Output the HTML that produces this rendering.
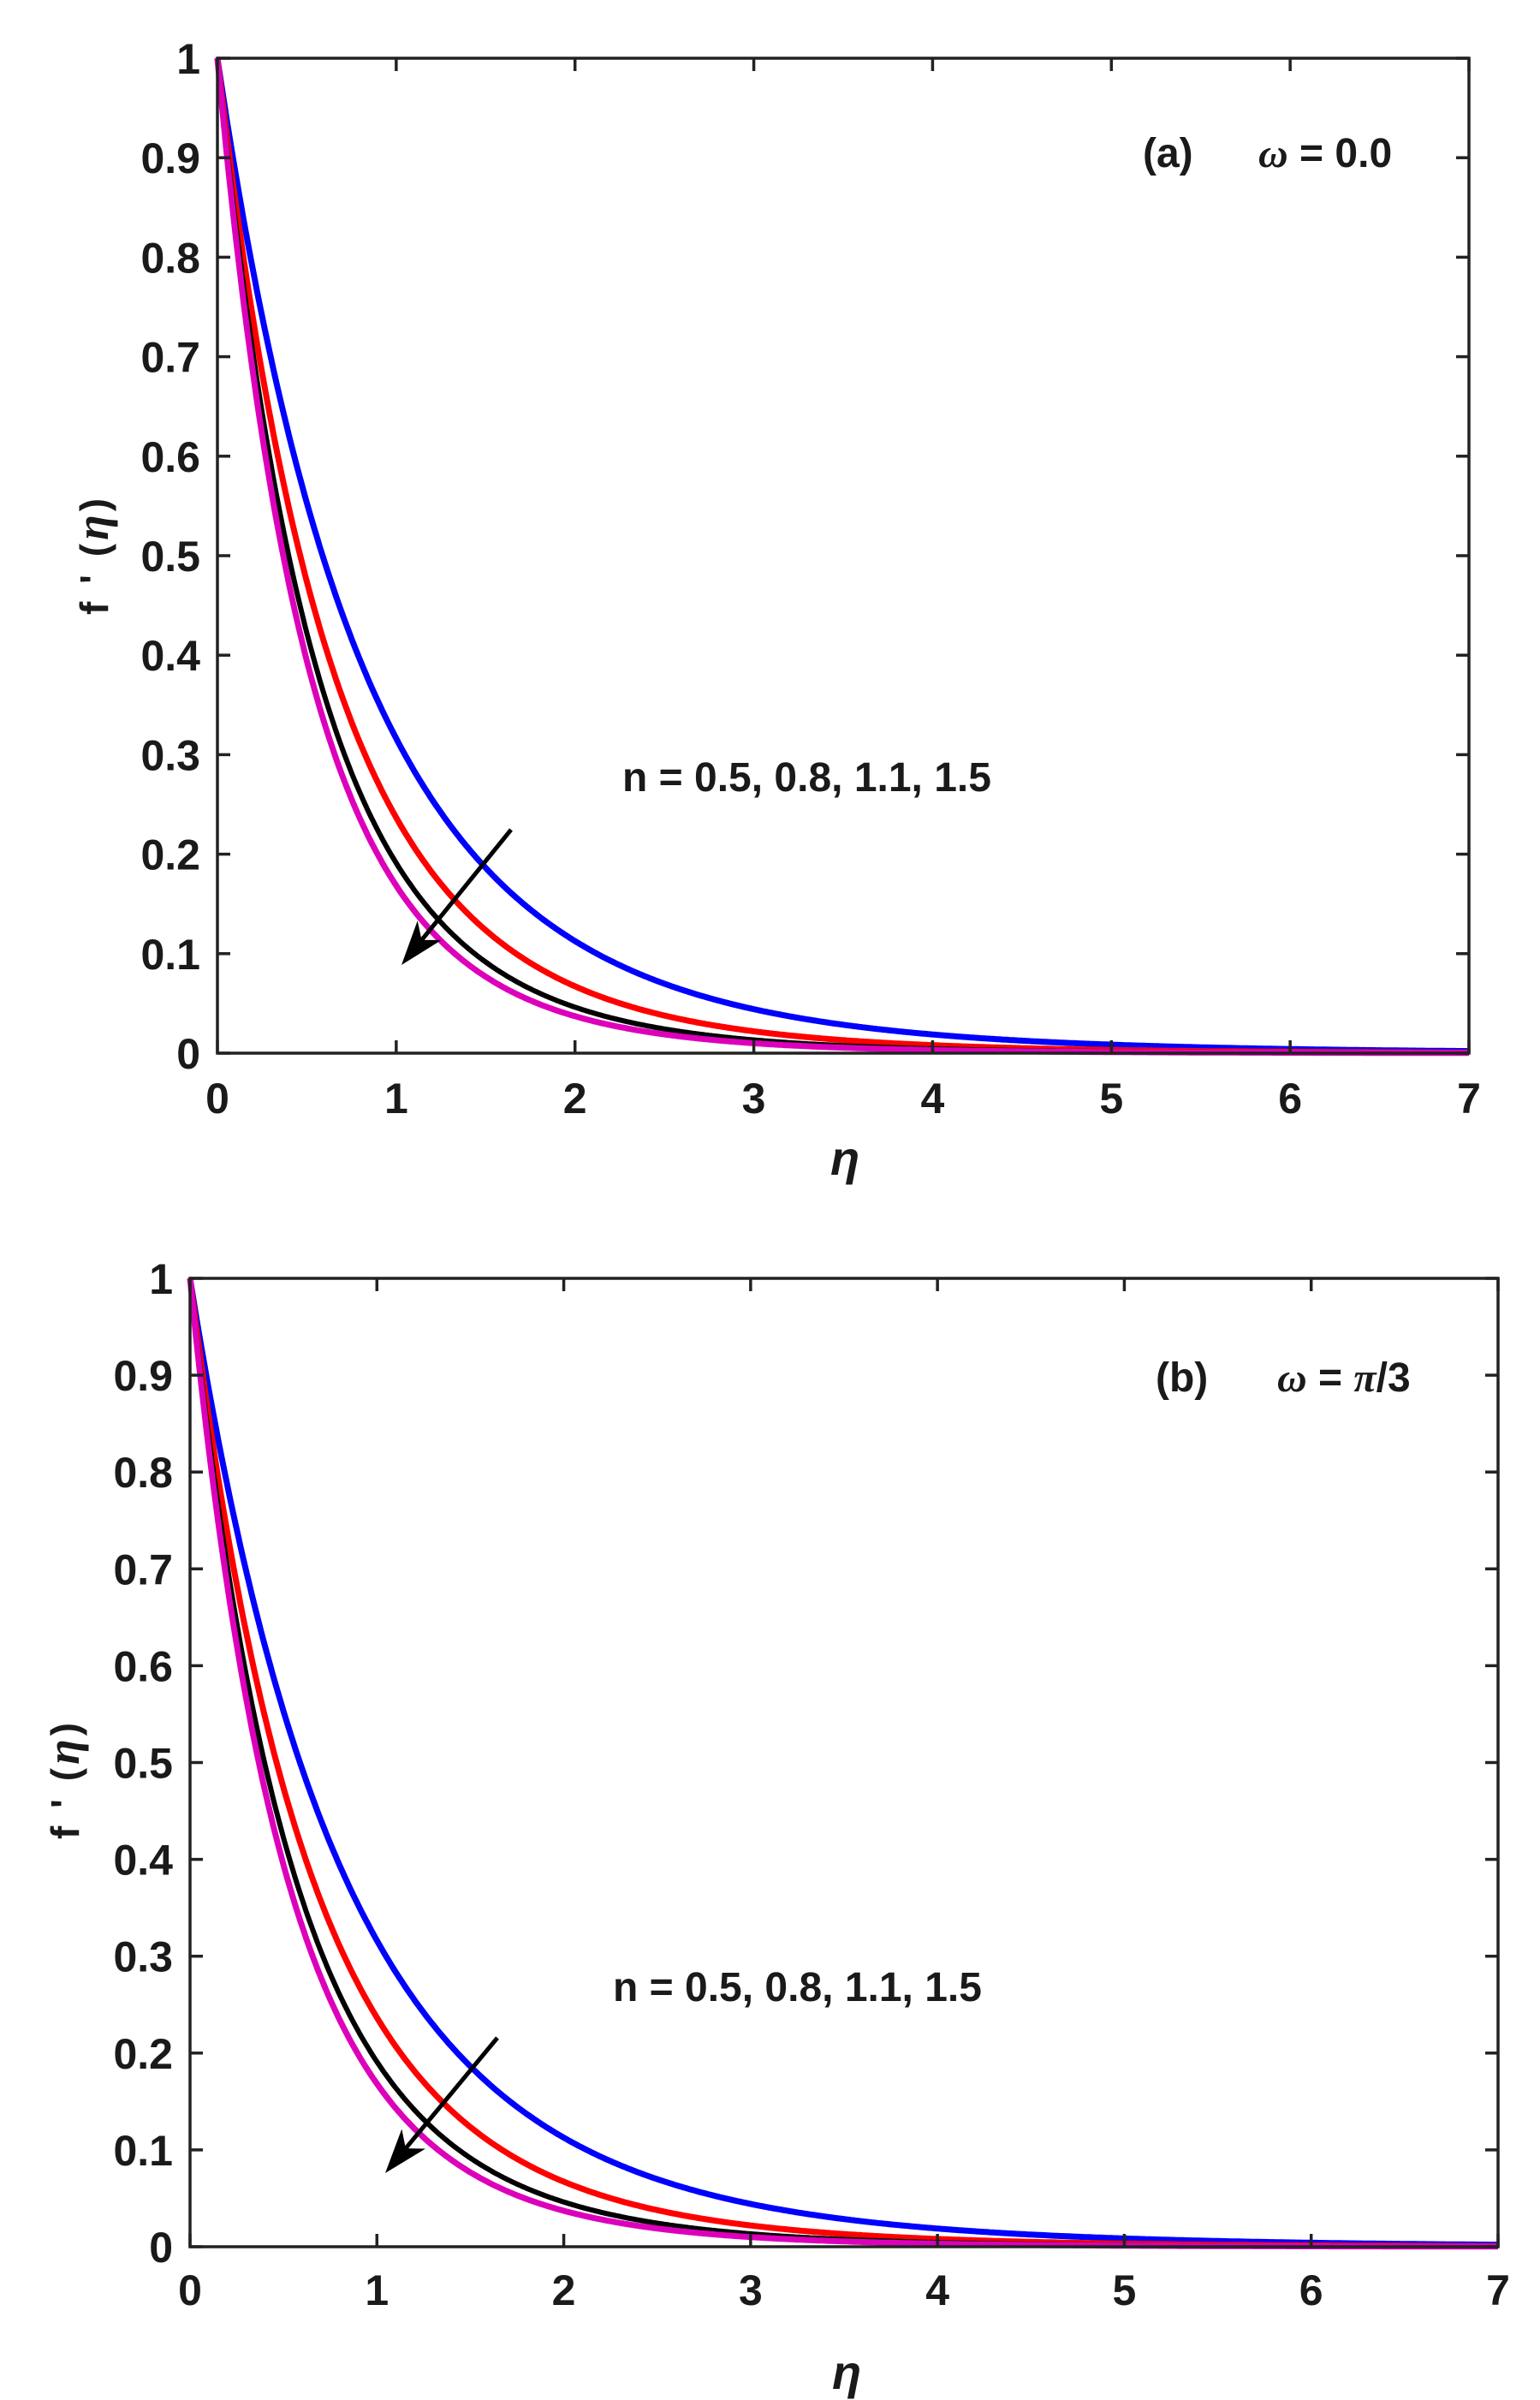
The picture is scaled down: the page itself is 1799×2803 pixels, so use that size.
<!DOCTYPE html>
<html><head><meta charset="utf-8"><style>
html,body{margin:0;padding:0;background:#fff;}
svg{display:block;}
text{font-family:"Liberation Sans",Arial,sans-serif;font-weight:bold;fill:#1a1a1a;}
</style></head><body>
<svg id="s" width="1799" height="2803" viewBox="0 0 1799 2803" xmlns="http://www.w3.org/2000/svg">
<rect width="1799" height="2803" fill="#fff"/>
<g id="g"></g>
<!-- plot a texts -->
<text x="1335" y="195" font-size="48">(a)</text>
<text x="1470" y="195" font-size="48"><tspan font-style="italic" font-family="Liberation Serif, serif">ω</tspan> = 0.0</text>
<text x="727" y="924" font-size="48">n = 0.5, 0.8, 1.1, 1.5</text>
<text x="970" y="1372" font-size="56" font-style="italic" font-family="Liberation Serif, serif">η</text>
<text transform="translate(126,648) rotate(-90)" text-anchor="middle" font-size="46" letter-spacing="4">f ' (<tspan font-style="italic" font-family="Liberation Serif, serif" font-size="54">η</tspan>)</text>
<!-- plot b texts -->
<text x="1350" y="1625" font-size="48">(b)</text>
<text x="1492" y="1625" font-size="48"><tspan font-style="italic" font-family="Liberation Serif, serif">ω</tspan> =  <tspan font-style="italic" font-family="Liberation Serif, serif">π</tspan>/3</text>
<text x="716" y="2337" font-size="48">n = 0.5, 0.8, 1.1, 1.5</text>
<text x="972" y="2790" font-size="56" font-style="italic" font-family="Liberation Serif, serif">η</text>
<text transform="translate(92,2078) rotate(-90)" text-anchor="middle" font-size="46" letter-spacing="4">f ' (<tspan font-style="italic" font-family="Liberation Serif, serif" font-size="54">η</tspan>)</text>
</svg>
<script>
(function(){
var NS="http://www.w3.org/2000/svg",g=document.getElementById("g");
function el(t,a,txt){var e=document.createElementNS(NS,t);for(var k in a)e.setAttribute(k,a[k]);if(txt!=null)e.textContent=txt;g.appendChild(e);return e;}
function plot(L,T,R,B,ylabR,xlabBase,arrow){
  var sx=(R-L)/7,sy=(B-T);
  function X(v){return L+v*sx;} function Y(v){return B-v*sy;}
  var curves=[["#0000ff",0.122,7],["#ff0000",0.155,7],["#000000",0.18,6],["#dd00bb",0.195,7]];
  curves.forEach(function(c){
    var d="";
    for(var i=0;i<=700;i++){var e=i*0.01;var f=Math.pow(1+c[1]*e,-10);d+=(i?"L":"M")+X(e).toFixed(1)+" "+Y(f).toFixed(1);}
    el("path",{d:d,fill:"none",stroke:c[0],"stroke-width":c[2],"stroke-linejoin":"round"});
  });
  el("rect",{x:L,y:T,width:R-L,height:B-T,fill:"none",stroke:"#222","stroke-width":3.5});
  for(var i=0;i<=7;i++){var x=X(i);
    el("line",{x1:x,y1:B,x2:x,y2:B-15,stroke:"#222","stroke-width":3.5});
    el("line",{x1:x,y1:T,x2:x,y2:T+15,stroke:"#222","stroke-width":3.5});
    el("text",{x:x,y:xlabBase,"text-anchor":"middle","font-size":50},String(i));}
  for(var j=0;j<=10;j++){var y=Y(j/10);
    el("line",{x1:L,y1:y,x2:L+15,y2:y,stroke:"#222","stroke-width":3.5});
    el("line",{x1:R,y1:y,x2:R-15,y2:y,stroke:"#222","stroke-width":3.5});
    var lab=j==0?"0":(j==10?"1":"0."+j);
    el("text",{x:ylabR,y:y+18,"text-anchor":"end","font-size":50},lab);}
  var a=arrow;
  el("line",{x1:a[0],y1:a[1],x2:a[2]+(a[0]-a[2])*0.1,y2:a[3]+(a[1]-a[3])*0.1,stroke:"#000","stroke-width":5});
  var dx=a[2]-a[0],dy=a[3]-a[1],len=Math.sqrt(dx*dx+dy*dy),ux=dx/len,uy=dy/len,px=-uy,py=ux;
  var hl=52,hw=18;
  var bx=a[2]-ux*hl,by=a[3]-uy*hl;
  var nx=a[2]-ux*hl*0.72,ny=a[3]-uy*hl*0.72;
  el("polygon",{points:a[2]+","+a[3]+" "+(bx+px*hw)+","+(by+py*hw)+" "+nx+","+ny+" "+(bx-px*hw)+","+(by-py*hw),fill:"#000"});
}
plot(254,68,1716,1230,234,1300,[597,969,469,1127]);
plot(222,1493,1750,2624,202,2692,[581,2380,450,2538]);
})();
</script>
</body></html>
